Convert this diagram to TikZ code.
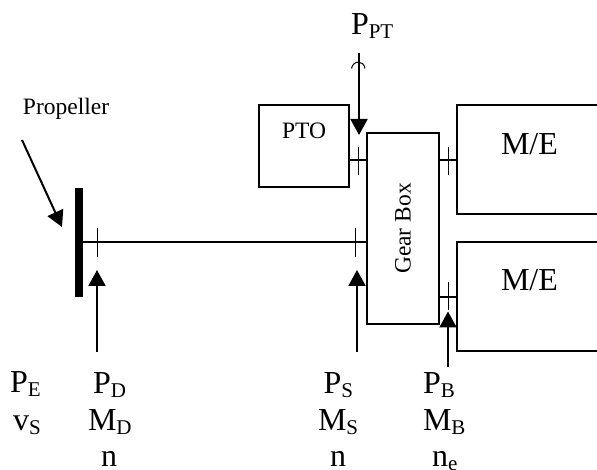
\documentclass[tikz,border=0pt]{standalone}
\usepackage{fontspec}
\setmainfont{Liberation Serif}
\usetikzlibrary{arrows.meta}
\newcommand{\mainsz}{\fontsize{32}{34}\selectfont}
\newcommand{\subsz}{\fontsize{21}{23}\selectfont}
\newcommand{\smallsz}{\fontsize{23.5}{25}\selectfont}
\newcommand{\lab}[2]{{\mainsz #1\raisebox{-4pt}{\subsz #2}}}
\tikzset{
 box/.style={draw,line width=1.3pt},
 thin shaft/.style={line width=1.1pt},
 tick/.style={line width=0.9pt},
 arrowline/.style={line width=2pt,-{Triangle[length=16pt,width=17pt]}},
 txt/.style={inner sep=0pt,outer sep=0pt,anchor=base west},
}
\begin{document}
\begin{tikzpicture}[x=1pt,y=-1pt]
\useasboundingbox (0,0) rectangle (597,470);
% boxes
\path[box,draw] (259,105) rectangle (349,187);
\coordinate (ptoR) at (349,160);
\coordinate (gbL) at (367,160);
\coordinate (gbR) at (439,160);
\coordinate (me1L) at (457,160);
\coordinate (gbR2) at (439,297);
\coordinate (me2L) at (457,297);
\coordinate (gbL2) at (367,242);
\coordinate (propR) at (83,242);
\draw[box] (367,133) rectangle (439,324);
\draw[box] (597,105) -- (457,105) -- (457,214) -- (597,214);
\draw[box] (597,242) -- (457,242) -- (457,351) -- (597,351);
\fill (75,188) rectangle (83,297);
% shafts
\draw[thin shaft] (ptoR) -- (gbL);
\draw[thin shaft] (gbR) -- (me1L);
\draw[thin shaft] (gbR2) -- (me2L);
\draw[thin shaft] (propR) -- (gbL2);
% ticks
\coordinate (t1a) at (358,147); \coordinate (t1b) at (358,175);
\coordinate (t2a) at (448,147); \coordinate (t2b) at (448,175);
\coordinate (t3a) at (448,282); \coordinate (t3b) at (448,310);
\coordinate (t4a) at (97,228); \coordinate (t4b) at (97,257);
\coordinate (t5a) at (355.5,228); \coordinate (t5b) at (355.5,257);
\draw[tick] (t1a)--(t1b);
\draw[tick] (t2a)--(t2b);
\draw[tick] (t3a)--(t3b);
\draw[tick] (t4a)--(t4b);
\draw[tick] (t5a)--(t5b);
% arrows
\coordinate (a1s) at (22,140); \coordinate (a1e) at (62,227);
\coordinate (a2s) at (97,352); \coordinate (a2e) at (97,270);
\coordinate (a3s) at (357,352); \coordinate (a3e) at (357,270);
\coordinate (a4s) at (448,367); \coordinate (a4e) at (448,311.5);
\coordinate (a5s) at (359,53); \coordinate (a5e) at (359,135);
\draw[arrowline] (a1s)--(a1e);
\draw[arrowline] (a2s)--(a2e);
\draw[arrowline] (a3s)--(a3e);
\draw[arrowline] (a4s)--(a4e);
\draw[arrowline] (a5s)--(a5e);
\draw[line width=1pt] (351.5,68.5) .. controls (353,60) and (364,60) .. (365,68.5);
% labels
\node[txt] (ppt) at (351,35) {\lab{P}{PT}};
\node[txt] (me1) at (501,155) {\mainsz M/E};
\node[txt] (me2) at (501,291) {\mainsz M/E};
\node[txt] (pto) at (282,139) {\smallsz PTO};
\node[txt] (prop) at (23,115) {\smallsz Propeller};
\node[inner sep=0pt,rotate=90] (gear) at (403,228.5) {\smallsz Gear Box};
\node[txt] (pe) at (10,392) {\lab{P}{E}};
\node[txt] (vs) at (13,430) {\lab{v}{S}};
\node[txt] (pd) at (93,393) {\lab{P}{D}};
\node[txt] (md) at (88,430) {\lab{M}{D}};
\node[txt] (n1) at (101,466) {\mainsz n};
\node[txt] (ps) at (323.5,393) {\lab{P}{S}};
\node[txt] (ms) at (318,430) {\lab{M}{S}};
\node[txt] (n2) at (330,466) {\mainsz n};
\node[txt] (pb) at (423,393) {\lab{P}{B}};
\node[txt] (mb) at (423,430) {\lab{M}{B}};
\node[txt] (ne) at (432,466) {\lab{n}{e}};
\end{tikzpicture}
\end{document}
